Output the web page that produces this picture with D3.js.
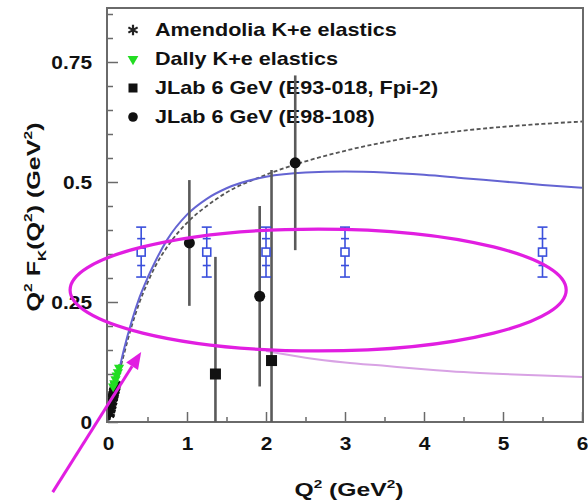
<!DOCTYPE html>
<html><head><meta charset="utf-8">
<script src="https://cdn.jsdelivr.net/npm/d3@7"></script>
<style>
body{margin:0;background:#fff;}
text{font-family:"Liberation Sans",Arial,Helvetica,sans-serif;font-weight:bold;fill:#111;}
</style>
</head><body>
<svg id="chart" width="588" height="500"></svg>
<script>
// ---------- data ----------
const xTickValues = [0,1,2,3,4,5,6];
const xTickLabels = ["0","1","2","3","4","5","6"];
const xMinorTicks = [0.5,1.5,2.5,3.5,4.5,5.5];
const yTickValues = [0,0.25,0.5,0.75];
const yTickLabels = ["0","0.25","0.5","0.75"];
const yMinorTicks = [0.05,0.1,0.15,0.2,0.3,0.35,0.4,0.45,0.55,0.6,0.65,0.7,0.8,0.85];

// Amendolia K+e elastics (asterisks)
const amendoliaQ2  = [0.0175,0.0225,0.0275,0.0325,0.0375,0.0425,0.0475,0.0525,0.0575,0.0625,0.0675,0.0725,0.0775,0.0825,0.0875,0.0925,0.0975];
const amendoliaVal = [0.016,0.019,0.025,0.028,0.033,0.035,0.041,0.043,0.049,0.052,0.056,0.059,0.064,0.066,0.071,0.073,0.078];
const amendoliaErr = [0.004,0.004,0.004,0.005,0.005,0.005,0.006,0.006,0.006,0.007,0.007,0.007,0.008,0.008,0.008,0.009,0.009];
// Dally K+e elastics (green triangles)
const dallyQ2  = [0.065,0.08,0.095,0.11,0.125,0.14];
const dallyVal = [0.074,0.081,0.089,0.097,0.104,0.113];
const dallyErr = [0.006,0.006,0.007,0.007,0.008,0.008];
// JLab 6 GeV E93-018 (squares)
const e93Q2  = [1.36,2.07];
const e93Val = [0.100,0.128];
const e93Err = [0.244,0.397];
// JLab 6 GeV E98-108 (circles)
const e98Q2  = [1.03,1.92,2.37];
const e98Val = [0.373,0.262,0.540];
const e98Err = [0.131,0.188,0.182];
// projected points (open blue squares)
const projQ2  = [0.42,1.25,2.0,3.0,5.5];
const projVal = [0.354,0.354,0.354,0.354,0.354];
const projErrInner = [0.028,0.028,0.028,0.028,0.028];
const projErrOuter = [0.052,0.052,0.052,0.052,0.052];
// model curves
const blueQ2  = [0,0.05,0.1,0.15,0.2,0.3,0.4,0.5,0.6,0.75,1.0,1.25,1.5,2.0,2.5,3.0,3.5,4.0,4.5,5.0,5.5,6.0];
const blueVal = [0,0.04,0.08,0.115,0.15,0.21,0.26,0.30,0.335,0.38,0.432,0.465,0.487,0.511,0.52,0.522,0.52,0.515,0.508,0.501,0.494,0.488];
const dashQ2  = [0,0.05,0.1,0.15,0.2,0.3,0.4,0.5,0.6,0.75,1.0,1.25,1.5,2.0,2.5,3.0,3.5,4.0,4.5,5.0,5.5,6.0];
const dashVal = [0,0.038,0.075,0.108,0.14,0.2,0.25,0.29,0.325,0.365,0.415,0.45,0.478,0.515,0.543,0.565,0.583,0.597,0.607,0.615,0.621,0.626];
const pinkQ2  = [2.0,2.5,3.0,3.5,4.0,4.5,5.0,5.5,6.0];
const pinkVal = [0.148,0.134,0.124,0.117,0.11,0.104,0.1,0.097,0.094];
// annotation: ellipse (centre, radii in data units) and arrow (tail, tip)
const ellipseCenter = [2.66,0.275];
const ellipseRadii  = [3.14,0.127];
const arrowTail = [-0.70,-0.146];
const arrowTip  = [0.42,0.146];
// legend
const legendLabels = ["Amendolia K+e elastics","Dally K+e elastics","JLab 6 GeV (E93-018, Fpi-2)","JLab 6 GeV (E98-108)"];

// ---------- layout ----------
const svg = d3.select("#chart");
const L = 108, R = 582, T = 8, B = 422;
const x = d3.scaleLinear().domain([0,6]).range([L,R]);
const y = d3.scaleLinear().domain([0,0.8625]).range([B,T]);

const frameCol = "#6a6a6a";
const magenta = "#e11ee1";

svg.append("defs").append("clipPath").attr("id","plotclip")
  .append("rect").attr("x",L).attr("y",T).attr("width",R-L).attr("height",B-T);

// ---------- curves ----------
const line = d3.line().x(d=>x(d[0])).y(d=>y(d[1])).curve(d3.curveMonotoneX);
const plot = svg.append("g").attr("clip-path","url(#plotclip)");
plot.append("path").datum(pinkQ2.map((q,i)=>[q,pinkVal[i]])).attr("d",line)
  .attr("fill","none").attr("stroke","#d8a2e4").attr("stroke-width",2);
plot.append("path").datum(dashQ2.map((q,i)=>[q,dashVal[i]])).attr("d",line)
  .attr("fill","none").attr("stroke","#555").attr("stroke-width",1.8).attr("stroke-dasharray","4,2.5");
plot.append("path").datum(blueQ2.map((q,i)=>[q,blueVal[i]])).attr("d",line)
  .attr("fill","none").attr("stroke","#6464d2").attr("stroke-width",2);

// ---------- axes ----------
const xAxis = d3.axisBottom(x).tickValues(xTickValues).tickFormat((d,i)=>xTickLabels[i])
  .tickSize(-10).tickSizeOuter(0).tickPadding(0);
const gx = svg.append("g").attr("transform",`translate(0,${B})`).call(xAxis);
gx.select(".domain").remove();
gx.selectAll(".tick line").attr("stroke",frameCol).attr("stroke-width",1.5);
gx.selectAll(".tick text").attr("y",0).attr("dy",null).attr("fill","#111")
  .style("font-size","18px").attr("dominant-baseline","central")
  .attr("transform","translate(0,22) scale(1.16,1)");
const xMinor = d3.axisBottom(x).tickValues(xMinorTicks).tickFormat("").tickSize(-5).tickSizeOuter(0);
const gxm = svg.append("g").attr("transform",`translate(0,${B})`).call(xMinor);
gxm.select(".domain").remove();
gxm.selectAll(".tick line").attr("stroke",frameCol).attr("stroke-width",1.5);

const yAxis = d3.axisLeft(y).tickValues(yTickValues).tickFormat((d,i)=>yTickLabels[i])
  .tickSize(-10).tickSizeOuter(0).tickPadding(0);
const gy = svg.append("g").attr("transform",`translate(${L},0)`).call(yAxis);
gy.select(".domain").remove();
gy.selectAll(".tick line").attr("stroke",frameCol).attr("stroke-width",1.5);
gy.selectAll(".tick text").attr("x",0).attr("dy",null).attr("fill","#111")
  .style("font-size","18px").attr("dominant-baseline","central")
  .attr("transform","translate(-16,0) scale(1.16,1)");
const yMinor = d3.axisLeft(y).tickValues(yMinorTicks).tickFormat("").tickSize(-5).tickSizeOuter(0);
const gym = svg.append("g").attr("transform",`translate(${L},0)`).call(yMinor);
gym.select(".domain").remove();
gym.selectAll(".tick line").attr("stroke",frameCol).attr("stroke-width",1.5);

svg.append("rect").attr("x",L-1).attr("y",T).attr("width",R-L+2).attr("height",B-T)
  .attr("fill","none").attr("stroke",frameCol).attr("stroke-width",2);

// ---------- axis titles ----------
function richText(g, parts, size){
  const t = g.append("text").style("font-size",size+"px");
  let shift = 0;
  parts.forEach(p=>{
    const target = p.s==="sup" ? -size*0.42 : p.s==="sub" ? size*0.3 : 0;
    t.append("tspan").text(p.t).attr("dy",target-shift)
      .style("font-size",(p.s? size*0.62 : size)+"px");
    shift = target;
  });
  return t;
}
const xt = svg.append("g").attr("transform","translate(349,496) scale(1.3,1)");
richText(xt,[{t:"Q"},{t:"2",s:"sup"},{t:" (GeV"},{t:"2",s:"sup"},{t:")"}],19).attr("text-anchor","middle");

const yt = svg.append("g").attr("transform","translate(40,217) rotate(-90) scale(1.32,1)");
richText(yt,[{t:"Q"},{t:"2",s:"sup"},{t:" F"},{t:"K",s:"sub"},{t:"(Q"},{t:"2",s:"sup"},{t:") (GeV"},{t:"2",s:"sup"},{t:")"}],19).attr("text-anchor","middle");

// ---------- legend ----------
const legY = [30,59,88,117];
const leg = svg.append("g");
legendLabels.forEach((lab,i)=>{
  leg.append("text").attr("transform",`translate(155,${legY[i]}) scale(1.2,1)`)
    .attr("dominant-baseline","central").style("font-size","18px").text(lab);
});
leg.append("path").attr("transform",`translate(133,${legY[0]})`)
  .attr("d",d3.symbol(d3.symbolAsterisk,80)()).attr("fill","none").attr("stroke","#222").attr("stroke-width",2.2);
leg.append("path").attr("transform",`translate(133,${legY[1]}) rotate(180)`)
  .attr("d",d3.symbol(d3.symbolTriangle,50)()).attr("fill","#22dd22");
leg.append("rect").attr("x",128.5).attr("y",legY[2]-4.5).attr("width",9).attr("height",9).attr("fill","#111");
leg.append("circle").attr("cx",133).attr("cy",legY[3]).attr("r",4.8).attr("fill","#111");

// ---------- data points ----------
const pts = svg.append("g").attr("clip-path","url(#plotclip)");
function errBars(q, v, e, col, w){
  pts.selectAll(null).data(q).enter().append("line")
    .attr("x1",d=>x(d)).attr("x2",d=>x(d))
    .attr("y1",(d,i)=>y(Math.max(0,v[i]-e[i]))).attr("y2",(d,i)=>y(v[i]+e[i]))
    .attr("stroke",col).attr("stroke-width",w);
}
// JLab error bars
errBars(e93Q2,e93Val,e93Err,"#5a5a5a",2.6);
errBars(e98Q2,e98Val,e98Err,"#5a5a5a",2.6);
// Amendolia
errBars(amendoliaQ2,amendoliaVal,amendoliaErr,"#111",1.5);
pts.selectAll(null).data(amendoliaQ2).enter().append("path")
  .attr("transform",(d,i)=>`translate(${x(d)},${y(amendoliaVal[i])})`)
  .attr("d",d3.symbol(d3.symbolAsterisk,90)()).attr("fill","none").attr("stroke","#111").attr("stroke-width",2.4);
// Dally
errBars(dallyQ2,dallyVal,dallyErr,"#22cc22",1.4);
pts.selectAll(null).data(dallyQ2).enter().append("path")
  .attr("transform",(d,i)=>`translate(${x(d)},${y(dallyVal[i])}) rotate(180)`)
  .attr("d",d3.symbol(d3.symbolTriangle,45)()).attr("fill","#22dd22");
// E93 squares
pts.selectAll(null).data(e93Q2).enter().append("rect")
  .attr("x",d=>x(d)-5.5).attr("y",(d,i)=>y(e93Val[i])-5.5).attr("width",11).attr("height",11).attr("fill","#111");
// E98 circles
pts.selectAll(null).data(e98Q2).enter().append("circle")
  .attr("cx",d=>x(d)).attr("cy",(d,i)=>y(e98Val[i])).attr("r",5.5).attr("fill","#111");
// projected blue squares
const blue = "#3a4fdc";
const pg = pts.selectAll(null).data(projQ2).enter().append("g")
  .attr("transform",(d,i)=>`translate(${x(d)},0)`);
pg.append("line").attr("x1",0).attr("x2",0)
  .attr("y1",(d,i)=>y(projVal[i]+projErrOuter[i])).attr("y2",(d,i)=>y(projVal[i]-projErrOuter[i]))
  .attr("stroke",blue).attr("stroke-width",1.6);
[projErrOuter,projErrInner].forEach((arr,k)=>{
  [1,-1].forEach(sgn=>{
    pg.append("line").attr("x1",k?-4:-5).attr("x2",k?4:5)
      .attr("y1",(d,i)=>y(projVal[i]+sgn*arr[i])).attr("y2",(d,i)=>y(projVal[i]+sgn*arr[i]))
      .attr("stroke",blue).attr("stroke-width",1.6);
  });
});
pg.append("rect").attr("x",-4).attr("y",(d,i)=>y(projVal[i])-4).attr("width",8).attr("height",8)
  .attr("fill","#fff").attr("stroke",blue).attr("stroke-width",1.6);

// ---------- annotations ----------
const ex = x(ellipseCenter[0]), ey = y(ellipseCenter[1]);
svg.append("ellipse").attr("cx",ex).attr("cy",ey)
  .attr("rx",x(ellipseCenter[0]+ellipseRadii[0])-ex).attr("ry",ey-y(ellipseCenter[1]+ellipseRadii[1]))
  .attr("fill","none").attr("stroke",magenta).attr("stroke-width",3.2);
const ax0 = x(arrowTail[0]), ay0 = y(arrowTail[1]), ax1 = x(arrowTip[0]), ay1 = y(arrowTip[1]);
const ang = Math.atan2(ay1-ay0, ax1-ax0);
const hl = 17, hw = 7;
const bx = ax1 - hl*Math.cos(ang), by = ay1 - hl*Math.sin(ang);
svg.append("line").attr("x1",ax0).attr("y1",ay0).attr("x2",bx).attr("y2",by)
  .attr("stroke",magenta).attr("stroke-width",3);
svg.append("path").attr("d",`M${ax1},${ay1} L${bx+hw*Math.sin(ang)},${by-hw*Math.cos(ang)} L${bx-hw*Math.sin(ang)},${by+hw*Math.cos(ang)} Z`)
  .attr("fill",magenta);
</script>
</body></html>
